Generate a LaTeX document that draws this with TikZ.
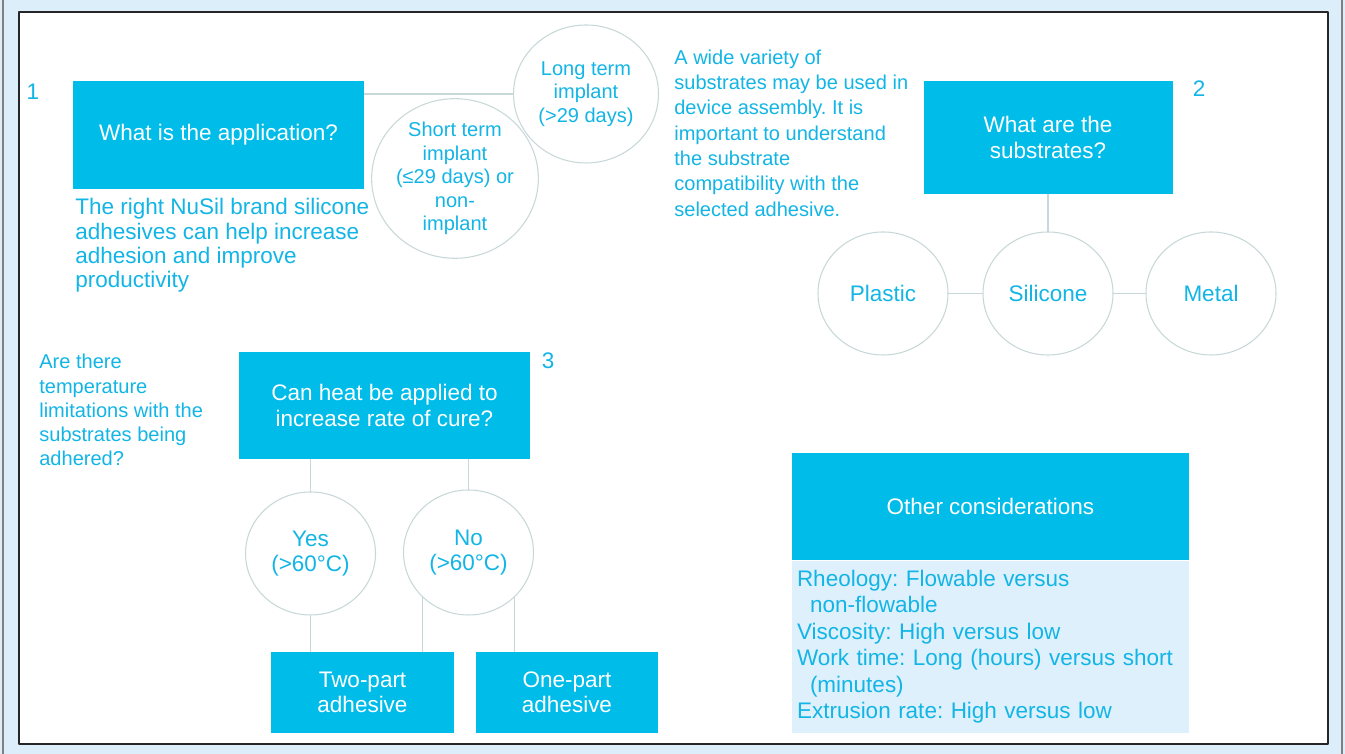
\documentclass[tikz,border=0pt]{standalone}
\usepackage{fontspec}
\setmainfont{Liberation Sans}
\usepackage{xcolor}
\usetikzlibrary{shapes.geometric}
\definecolor{nsbg}{RGB}{220,238,249}
\definecolor{nscyan}{RGB}{0,188,233}
\definecolor{nstext}{RGB}{18,181,229}
\definecolor{nsline}{RGB}{200,216,216}
\definecolor{nspanel}{RGB}{222,240,252}
\newcommand{\bigtxt}{\fontsize{12.8}{14.4}\selectfont}
\newcommand{\smalltxt}{\fontsize{11.4}{13.4}\selectfont}
\frenchspacing

\begin{document}
\begin{tikzpicture}[line cap=round,line join=round,x=1.0cm,y=1.0cm,
	qbox/.style={fill=nscyan,text=white,inner sep=0pt,align=center,font=\bigtxt},
	bubble/.style={ellipse,draw=nsline,line width=0.6pt,fill=white,text=nstext,inner sep=0pt,align=center,font=\bigtxt,minimum width=2.6cm,minimum height=2.46cm},
	note/.style={text=nstext,inner sep=0pt,align=left,anchor=west},
	num/.style={text=nstext,inner sep=0pt,font=\bigtxt},
	link/.style={draw=nsline,line width=0.6pt}]
		\useasboundingbox (0,0) rectangle (26.9,15.08);
		\fill [nsbg] (0,0) rectangle (26.9,15.08);
		\draw [gray,line width=0.6pt] (0.06,0)-- (0.06,15.08);
		\draw [gray,line width=0.6pt] (26.84,0)-- (26.84,15.08);
		\filldraw [fill=white,draw=black!85,line width=0.9pt] (0.38,0.2) rectangle (26.56,14.84);
		% application
		\node[qbox,minimum width=5.82cm,minimum height=2.16cm] (app) at (4.37,12.38) {What is the application?};
		\node[num] (n1) at (0.66,13.24) {1};
		\node[bubble,font=\smalltxt,minimum width=2.9cm,minimum height=2.76cm] (longterm) at (11.72,13.2) {Long term\\implant\\(>29 days)};
		\node[bubble,font=\smalltxt,minimum width=2.88cm,minimum height=2.86cm] (shortterm) at (9.1,11.51) {Short term\\implant\\(≤29 days) or\\non-\\implant};
		\node[note,font=\fontsize{12.8}{13.8}\selectfont] (nusil) at (1.5,10.17) {The right NuSil brand silicone\\adhesives can help increase\\adhesion and improve\\productivity};
		% substrates
		\node[note,font=\fontsize{11.4}{14.4}\selectfont] (variety) at (13.48,12.42) {A wide variety of\\substrates may be used in\\device assembly. It is\\important to understand\\the substrate\\compatibility with the\\selected adhesive.};
		\node[qbox,minimum width=4.98cm,minimum height=2.26cm] (subs) at (20.96,12.33) {What are the\\substrates?};
		\node[num] (n2) at (23.98,13.3) {2};
		\node[bubble] (plastic) at (17.66,9.21) {Plastic};
		\node[bubble] (silicone) at (20.96,9.21) {Silicone};
		\node[bubble] (metal) at (24.22,9.21) {Metal};
		% heat
		\node[note,font=\fontsize{11.4}{13.7}\selectfont] (templim) at (0.78,6.88) {Are there\\temperature\\limitations with the\\substrates being\\adhered?};
		\node[qbox,font=\fontsize{12.8}{14.8}\selectfont,minimum width=5.82cm,minimum height=2.14cm] (heat) at (7.69,6.97) {Can heat be applied to\\increase rate of cure?};
		\node[num] (n3) at (10.96,7.86) {3};
		\node[bubble] (yes) at (6.21,4.01) {Yes\\(>60°C)};
		\node[bubble,minimum height=2.5cm] (no) at (9.37,4.03) {No\\(>60°C)};
		\node[qbox,minimum width=3.66cm,minimum height=1.62cm] (twopart) at (7.25,1.23) {Two-part\\adhesive};
		\node[qbox,minimum width=3.64cm,minimum height=1.62cm] (onepart) at (11.34,1.23) {One-part\\adhesive};
		% other considerations
		\node[qbox,minimum width=7.94cm,minimum height=2.14cm] (other) at (19.81,4.95) {Other considerations};
		\node[fill=nspanel,text=nstext,anchor=north,inner xsep=0.1cm,inner ysep=0pt,text width=7.74cm,minimum height=3.44cm,align=left,font=\fontsize{12.8}{15}\selectfont] (extra) at (other.south) {Rheology: Flowable versus\\\hspace*{0.26cm}non-flowable\\Viscosity: High versus low\\Work time: Long (hours) versus short\\\hspace*{0.26cm}(minutes)\\Extrusion rate: High versus low};
		% connectors
		\draw [link] (longterm.west)-- (app.east |- longterm.west);
		\draw [link] (subs.south)-- (silicone.north);
		\draw [link] (plastic.east)-- (silicone.west);
		\draw [link] (silicone.east)-- (metal.west);
		\draw [link] (heat.south -| yes.north)-- (yes.north);
		\draw [link] (heat.south -| no.north)-- (no.north);
		\draw [link] (yes.south)-- (yes.south |- twopart.north);
		\draw [link] (no.224)-- (no.224 |- twopart.north);
		\draw [link] (no.316)-- (no.316 |- onepart.north);
	\end{tikzpicture}
\end{document}
